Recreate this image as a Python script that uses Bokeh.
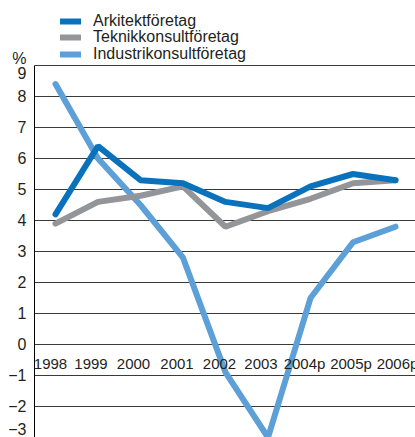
from bokeh.plotting import figure
from bokeh.models import Range1d, ColumnDataSource, FixedTicker, Legend, LegendItem, LinearAxis
from bokeh.core.properties import value
from bokeh.embed import file_html
from bokeh.resources import INLINE

years = ["1998", "1999", "2000", "2001", "2002", "2003", "2004p", "2005p", "2006p"]
arkitekt = [4.2, 6.4, 5.3, 5.2, 4.6, 4.4, 5.1, 5.5, 5.3]
teknik = [3.9, 4.6, 4.8, 5.1, 3.8, 4.3, 4.7, 5.2, 5.3]
industri = [8.4, 6.0, 4.5, 2.8, -0.9, -3.0, 1.5, 3.3, 3.8]
series_names = ["Arkitektföretag", "Teknikkonsultföretag", "Industrikonsultföretag"]
y_ticks = list(range(-3, 10))
unit_label = "%"

# styles
colors = ["#0a72bd", "#939598", "#5d9fd7"]
label_dx = [-5, -7, -7, -6, -6, -7, -6, -2, 2]
FONT = "Liberation Sans"
TXT = "#231f20"

idx = list(range(len(years)))

p = figure(width=415, height=437, output_backend="svg", toolbar_location=None,
           x_range=Range1d(-0.494, 8.47), y_range=Range1d(-3.0, 11.097),
           x_axis_location=None, min_border_left=34, min_border_top=0,
           min_border_right=0, min_border_bottom=0)
p.outline_line_color = None
p.background_fill_color = "white"
p.border_fill_color = "white"

p.xgrid.visible = False
p.ygrid.ticker = FixedTicker(ticks=y_ticks)
p.ygrid.grid_line_color = "#3a3a3a"
p.ygrid.grid_line_width = 1

# axis line only (closest to the frame)
ax = p.yaxis[0]
ax.ticker = FixedTicker(ticks=y_ticks)
ax.bounds = (y_ticks[0], y_ticks[-1])
ax.axis_line_color = "black"
ax.axis_line_width = 1
ax.major_tick_line_color = None
ax.minor_tick_line_color = None
ax.major_tick_out = 0
ax.major_tick_in = 0
ax.major_label_standoff = 0
ax.major_label_text_font_size = "0px"
ax.major_label_text_alpha = 0

# tick labels (9 nudged below its line as in the original, % above it)
nine_pos = y_ticks[-1] - 0.26
pct_pos = y_ticks[-1] + 0.24
lab_ticks = y_ticks[:-1] + [nine_pos, pct_pos]
lab = LinearAxis(ticker=FixedTicker(ticks=lab_ticks),
                 major_label_overrides={nine_pos: str(y_ticks[-1]), pct_pos: unit_label},
                 axis_line_color=None, major_tick_line_color=None, minor_tick_line_color=None,
                 major_tick_out=0, major_tick_in=0, major_label_standoff=8,
                 major_label_text_font=FONT, major_label_text_font_size="16px",
                 major_label_text_color=TXT, major_label_text_baseline="alphabetic")
p.add_layout(lab, "left")

src = ColumnDataSource(dict(x=idx, years=years, dx=label_dx,
                            ark=arkitekt, tek=teknik, ind=industri))

r_ind = p.line("x", "ind", source=src, line_color=colors[2], line_width=6, line_cap="round")
r_tek = p.line("x", "tek", source=src, line_color=colors[1], line_width=6, line_cap="round")
r_ark = p.line("x", "ark", source=src, line_color=colors[0], line_width=6, line_cap="round")

p.text(x="x", y=0, text="years", source=src, text_font=value(FONT), text_font_size="15px",
       text_color=TXT, text_align="center", text_baseline="alphabetic",
       x_offset="dx", y_offset=19)

row_centers = [20.5, 37.0, 53.5]
for name, r, cy in zip(series_names, [r_ark, r_tek, r_ind], row_centers):
    lg = Legend(items=[LegendItem(label=name, renderers=[r])],
                location=(26, round(437 - cy - 9.25)), orientation="vertical",
                glyph_width=21, glyph_height=16, label_height=16, label_standoff=12,
                spacing=0, padding=0, margin=0,
                label_text_font=FONT, label_text_font_size="16px", label_text_color=TXT,
                border_line_color=None, background_fill_alpha=0)
    p.add_layout(lg, "center")

open("out.html", "w").write(file_html(p, INLINE))
